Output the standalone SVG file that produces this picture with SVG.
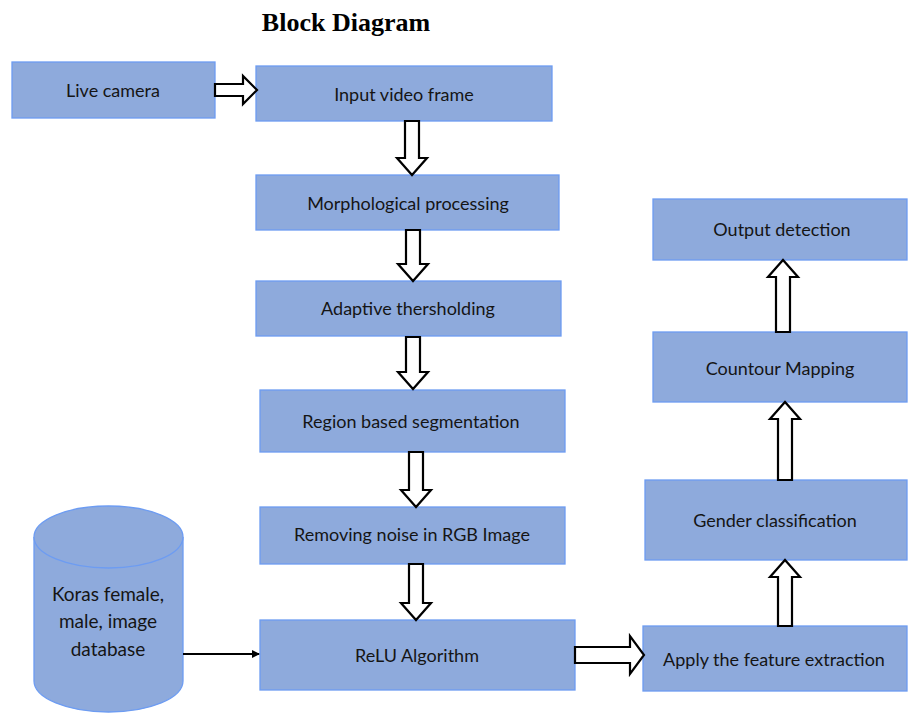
<svg xmlns="http://www.w3.org/2000/svg" width="910" height="714" viewBox="0 0 910 714">
<style>
.box{fill:#8eaadc;stroke:#6d9cf2;stroke-width:1.3}
.t{font-family:Lato,"Liberation Sans",sans-serif;font-size:18px;fill:#151515;text-anchor:middle}
.db{font-size:19px}
.ba{fill:#fff;stroke:#000;stroke-width:2.2;stroke-linejoin:miter}
.title{font-family:"Liberation Serif",serif;font-weight:bold;font-size:26px;fill:#000;text-anchor:middle}
</style>
<defs>
<marker id="ah" markerWidth="8" markerHeight="8" refX="7" refY="4" orient="auto" markerUnits="userSpaceOnUse">
<path d="M0,0 L8,4 L0,8 Z" fill="#000"/>
</marker>
</defs>
<rect width="910" height="714" fill="#fff"/>
<text class="title" x="346" y="31">Block Diagram</text>

<g id="live-camera"><rect class="box" x="12" y="62" width="203" height="56"/><text class="t" x="113" y="97">Live camera</text></g>
<g id="input-video-frame"><rect class="box" x="256" y="66" width="296" height="55"/><text class="t" x="404" y="101">Input video frame</text></g>
<g id="morphological"><rect class="box" x="256" y="175" width="303" height="55"/><text class="t" x="408" y="210">Morphological processing</text></g>
<g id="adaptive"><rect class="box" x="256" y="281" width="305" height="55"/><text class="t" x="408" y="315">Adaptive thersholding</text></g>
<g id="region"><rect class="box" x="260" y="390" width="305" height="62"/><text class="t" x="411" y="428">Region based segmentation</text></g>
<g id="removing"><rect class="box" x="260" y="507" width="305" height="57"/><text class="t" x="412" y="541">Removing noise in RGB Image</text></g>
<g id="relu"><rect class="box" x="260" y="620" width="315" height="70"/><text class="t" x="417" y="662">ReLU Algorithm</text></g>
<g id="feature"><rect class="box" x="643" y="626" width="264" height="65"/><text class="t" x="774" y="666">Apply the feature extraction</text></g>
<g id="gender"><rect class="box" x="645" y="480" width="262" height="80"/><text class="t" x="775" y="527">Gender classification</text></g>
<g id="contour"><rect class="box" x="653" y="332" width="254" height="70"/><text class="t" x="780" y="375">Countour Mapping</text></g>
<g id="output"><rect class="box" x="653" y="199" width="254" height="61"/><text class="t" x="782" y="236">Output detection</text></g>
<g id="database">
<path class="box" d="M34,537 A74.5,31 0 0 1 183,537 L183,681 A74.5,31 0 0 1 34,681 Z"/>
<path class="box" d="M34,537 A74.5,31 0 0 0 183,537" fill="none"/>
<text class="t db" x="108" y="601">Koras female,</text>
<text class="t db" x="108" y="628">male, image</text>
<text class="t db" x="108" y="656">database</text>
</g>

<g id="connectors">
<polygon class="ba" points="215,84 243,84 243,76 257,90 243,104 243,96 215,96"/>
<polygon class="ba" points="405,121 419,121 419,158 427,158 412,175 397,158 405,158"/>
<polygon class="ba" points="406,230 420,230 420,264 428,264 413,281 398,264 406,264"/>
<polygon class="ba" points="406,337 420,337 420,372 428,372 413,389 398,372 406,372"/>
<polygon class="ba" points="409,452 423,452 423,490 431,490 416,507 401,490 409,490"/>
<polygon class="ba" points="409,564 423,564 423,603 431,603 416,620 401,603 409,603"/>
<polygon class="ba" points="575,647 630,647 630,636 644,655 630,674 630,663 575,663"/>
<polygon class="ba" points="778,626 792,626 792,577 800,577 785,560 770,577 778,577"/>
<polygon class="ba" points="778,480 792,480 792,419 800,419 785,402 770,419 778,419"/>
<polygon class="ba" points="776,332 790,332 790,277 798,277 783,260 768,277 776,277"/>
<line x1="183" y1="654" x2="259" y2="654" stroke="#000" stroke-width="2" marker-end="url(#ah)"/>
</g>
</svg>
